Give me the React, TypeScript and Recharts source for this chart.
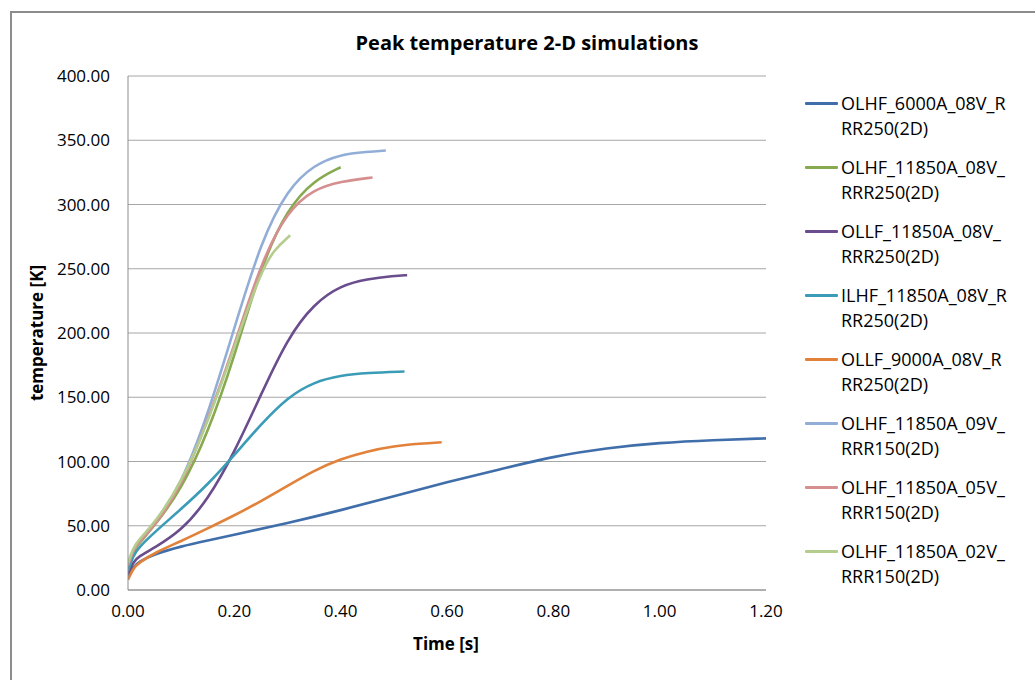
import { LineChart, Line, CartesianGrid, XAxis, YAxis } from "recharts";

const NAMES = [
  "OLHF_6000A_08V_RRR250(2D)",
  "OLHF_11850A_08V_RRR250(2D)",
  "OLLF_11850A_08V_RRR250(2D)",
  "ILHF_11850A_08V_RRR250(2D)",
  "OLLF_9000A_08V_RRR250(2D)",
  "OLHF_11850A_09V_RRR150(2D)",
  "OLHF_11850A_05V_RRR150(2D)",
  "OLHF_11850A_02V_RRR150(2D)",
];
// where Excel wrapped each legend label
const WRAP_AT = [16, 16, 16, 17, 16, 16, 16, 16];
const COLORS = ["#3F6EAA", "#87A94F", "#6A4D8D", "#3A9CB6", "#E2823A", "#93AED6", "#D58F8F", "#B4CC8E"];

// time [s]
const T_6000 = [0, 0.01, 0.02, 0.05, 0.1, 0.15, 0.2, 0.3, 0.4, 0.5, 0.6, 0.7, 0.8, 0.9, 1.0, 1.1, 1.2];
const T_OLHF08 = [0, 0.01, 0.02, 0.05, 0.1, 0.15, 0.2, 0.25, 0.3, 0.35, 0.4];
const T_OLLF08 = [0, 0.01, 0.02, 0.05, 0.1, 0.15, 0.2, 0.25, 0.3, 0.35, 0.4, 0.45, 0.5, 0.525];
const T_ILHF08 = [0, 0.01, 0.02, 0.05, 0.1, 0.15, 0.2, 0.25, 0.3, 0.35, 0.4, 0.45, 0.52];
const T_9000 = [0, 0.01, 0.02, 0.05, 0.1, 0.15, 0.2, 0.25, 0.3, 0.35, 0.4, 0.45, 0.5, 0.55, 0.59];
const T_09V = [0, 0.01, 0.02, 0.05, 0.1, 0.15, 0.2, 0.25, 0.3, 0.35, 0.4, 0.45, 0.485];
const T_05V = [0, 0.01, 0.02, 0.05, 0.1, 0.15, 0.2, 0.25, 0.3, 0.35, 0.4, 0.46];
const T_02V = [0, 0.01, 0.02, 0.05, 0.1, 0.15, 0.2, 0.25, 0.275, 0.305];

// peak temperature [K]
const K_6000 = [10, 18, 22, 28, 34, 38.5, 43, 52, 62, 73, 84, 94, 104, 110.5, 114.6, 116.7, 118];
const K_OLHF08 = [18, 30, 36, 50, 78, 122, 181, 252, 297, 319, 329];
const K_OLLF08 = [12, 22, 26, 33, 46, 70, 107, 152, 196, 223, 237, 242, 244.5, 245];
const K_ILHF08 = [15, 27, 33, 45, 63, 82, 105, 129, 150, 162, 167, 169, 170];
const K_9000 = [8, 17, 21, 29, 38, 48, 58, 69, 81, 93, 102, 108, 112, 114, 115];
const K_09V = [20, 32, 38, 51, 82, 136, 204, 271, 312, 331, 339, 341, 342];
const K_05V = [19, 31, 37, 50, 80, 132, 190, 255, 295, 312, 318, 321];
const K_02V = [21, 33, 39, 52, 83, 130, 189, 248, 265, 276];

const X_TICKS = [0, 0.2, 0.4, 0.6, 0.8, 1.0, 1.2];
const Y_TICKS = [0, 50, 100, 150, 200, 250, 300, 350, 400];

const TIMES = [T_6000, T_OLHF08, T_OLLF08, T_ILHF08, T_9000, T_09V, T_05V, T_02V];
const TEMPS = [K_6000, K_OLHF08, K_OLLF08, K_ILHF08, K_9000, K_09V, K_05V, K_02V];

const FONT = "'Open Sans', 'Noto Sans', sans-serif";
const tickStyle = { fontSize: 17, fill: "#000", fontFamily: FONT };

export default function App() {
  const series = NAMES.map((name, i) => ({
    name,
    color: COLORS[i],
    data: TIMES[i].map((t, j) => ({ t, T: TEMPS[i][j] })),
  }));

  return (
    <div style={{ position: "absolute", left: 0, top: 0, width: 1035, height: 680, overflow: "hidden", background: "#fff", fontFamily: FONT }}>
      <div style={{ position: "absolute", left: 10, top: 11, width: 1100, height: 700, borderLeft: "2px solid #8c8c8c", borderTop: "2px solid #8c8c8c" }} />
      <div style={{ position: "absolute", left: 327, top: 29, width: 400, textAlign: "center", fontSize: 20, fontWeight: 700, lineHeight: "28px" }}>
        Peak temperature 2-D simulations
      </div>
      <LineChart
        width={1035}
        height={680}
        margin={{ top: 76, right: 269, bottom: 60, left: 48 }}
        style={{ position: "absolute", left: 0, top: 0 }}
      >
        <CartesianGrid horizontal vertical={false} stroke="#a6a6a6" strokeWidth={1} />
        <XAxis
          type="number"
          dataKey="t"
          domain={[0, 1.2]}
          ticks={X_TICKS}
          tickFormatter={(v: number) => v.toFixed(2)}
          tick={tickStyle}
          tickLine={false}
          tickSize={0}
          tickMargin={15}
          height={30}
          stroke="#8c8c8c"
          allowDataOverflow
        />
        <YAxis
          type="number"
          domain={[0, 400]}
          ticks={Y_TICKS}
          tickFormatter={(v: number) => v.toFixed(2)}
          tick={tickStyle}
          tickLine={false}
          tickSize={0}
          tickMargin={18}
          width={80}
          stroke="#8c8c8c"
        />
        {series.map((s) => (
          <Line
            key={s.name}
            data={s.data}
            dataKey="T"
            name={s.name}
            type="basis"
            stroke={s.color}
            strokeWidth={2.6}
            dot={false}
            isAnimationActive={false}
          />
        ))}
      </LineChart>
      <div style={{ position: "absolute", left: 346, top: 632, width: 200, textAlign: "center", fontSize: 17, fontWeight: 700, lineHeight: "24px" }}>
        Time [s]
      </div>
      <div
        style={{
          position: "absolute",
          left: 37 - 100,
          top: 333 - 12,
          width: 200,
          textAlign: "center",
          fontSize: 17,
          fontWeight: 700,
          lineHeight: "24px",
          transform: "rotate(-90deg)",
        }}
      >
        temperature [K]
      </div>
      {series.map((s, i) => (
        <div key={s.name} style={{ position: "absolute", left: 805, top: 90.5 + i * 64.05, width: 230, fontSize: 18, lineHeight: "25px" }}>
          <div style={{ position: "absolute", left: 0, top: 11, width: 33, height: 3, background: s.color, borderRadius: 1 }} />
          <div style={{ marginLeft: 36, whiteSpace: "nowrap" }}>{s.name.slice(0, WRAP_AT[i])}</div>
          <div style={{ marginLeft: 36, whiteSpace: "nowrap" }}>{s.name.slice(WRAP_AT[i])}</div>
        </div>
      ))}
    </div>
  );
}
